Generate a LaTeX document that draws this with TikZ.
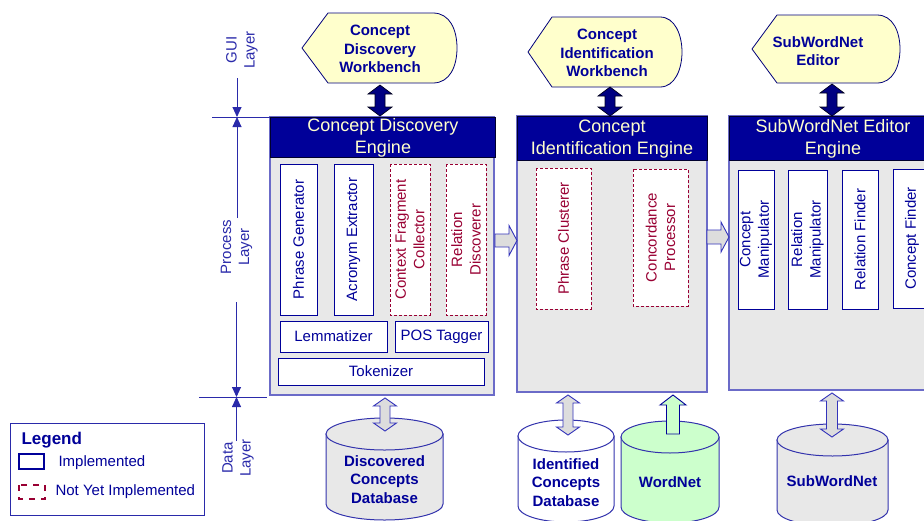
\documentclass[tikz,border=0pt]{standalone}
\usepackage{fontspec}
\setmainfont{Liberation Sans}
\usetikzlibrary{arrows.meta}
\definecolor{navy}{HTML}{000099}
\definecolor{hdrtxt}{HTML}{FFFFCC}
\definecolor{engfill}{HTML}{E8E8E8}
\definecolor{engdraw}{HTML}{6B6BC8}
\definecolor{niRed}{HTML}{990033}
\definecolor{wbfill}{HTML}{FFFFCC}
\definecolor{dimblue}{HTML}{2A2AAA}
\definecolor{garrow}{HTML}{DDDDDD}
\definecolor{garrowdraw}{HTML}{3333BB}
\definecolor{wngreen}{HTML}{CCFFCC}
\definecolor{dbgray}{HTML}{E8E8E8}
\newcommand\VDArrow[7]{% x, ytop, ybot, shaft half, head half, head length, style
  \path[#7] (#1-#5,#2+#6) -- (#1,#2) -- (#1+#5,#2+#6) -- (#1+#4,#2+#6) -- (#1+#4,#3-#6) -- (#1+#5,#3-#6) -- (#1,#3) -- (#1-#5,#3-#6) -- (#1-#4,#3-#6) -- (#1-#4,#2+#6) -- cycle;}
\newcommand\VUArrow[7]{% x, ytop, ybot, shaft half, head half, head length, style
  \path[#7] (#1-#4,#3) -- (#1-#4,#2+#6) -- (#1-#5,#2+#6) -- (#1,#2) -- (#1+#5,#2+#6) -- (#1+#4,#2+#6) -- (#1+#4,#3) -- cycle;}
\newcommand\HRArrow[7]{% xl, xr, yc, shaft half, head half, head length, style
  \path[#7] (#1,#3-#4) -- (#2-#6,#3-#4) -- (#2-#6,#3-#5) -- (#2,#3) -- (#2-#6,#3+#5) -- (#2-#6,#3+#4) -- (#1,#3+#4) -- cycle;}
\newcommand\DBcyl[6]{% xl, xr, ytop centre, ybot centre, ry, style
  \path[#6] (#1,#4) -- (#1,#3) -- (#2,#3) -- (#2,#4)
    .. controls (#2,#4+0.5523*#5) and ({(#1+#2)/2+0.5523*(#2-#1)/2},#4+#5) .. ({(#1+#2)/2},#4+#5)
    .. controls ({(#1+#2)/2-0.5523*(#2-#1)/2},#4+#5) and (#1,#4+0.5523*#5) .. (#1,#4) -- cycle;
  \path[#6] ({(#1+#2)/2},#3) ellipse [x radius={(#2-#1)/2}, y radius=#5];}
\begin{document}
\begin{tikzpicture}[x=1pt,y=-1pt,
  wbshape/.style={draw=navy!80!black, fill=wbfill, line width=0.8pt},
  wbtext/.style={font=\bfseries\fontsize{15}{18.5}\selectfont, text=navy, align=center},
  engbox/.style={draw=engdraw, fill=engfill, line width=1.2pt},
  enghdr/.style={draw=black!70!navy, fill=navy, line width=0.6pt},
  hdrtext/.style={font=\fontsize{18}{22}\selectfont, text=hdrtxt, align=center},
  implrot/.style={draw=navy, line width=1pt, fill=white, text=navy, inner sep=0pt, align=center,
     rotate=90, font=\fontsize{15}{18.5}\selectfont},
  notimplrot/.style={implrot, draw=niRed, text=niRed, dashed, dash pattern=on 3pt off 2pt, line width=0.9pt},
  implflat/.style={draw=navy, line width=1pt, fill=white, text=navy, inner sep=0pt, align=center,
     font=\fontsize{15}{18}\selectfont},
  navyarrow/.style={fill=navy!85!black, draw=black!80!navy, line width=0.7pt},
  grayarrow/.style={fill=garrow, draw=garrowdraw, line width=0.9pt},
  greenarrow/.style={fill=wngreen, draw=navy, line width=0.9pt},
  dimline/.style={draw=dimblue, line width=0.9pt},
  dimtip/.style={dimline, -{Triangle[width=9pt,length=10pt]}},
  layertext/.style={font=\fontsize{15}{18}\selectfont, text=dimblue, align=center, rotate=90},
  dbtext/.style={font=\bfseries\fontsize{15}{18.5}\selectfont, text=navy, align=center},
  graycyl/.style={draw=navy!80, fill=dbgray, line width=1pt},
  whitecyl/.style={draw=navy!80, fill=white, line width=1pt},
  greencyl/.style={draw=navy!80, fill=wngreen, line width=1pt},
  legtext/.style={font=\fontsize{15}{18}\selectfont, text=navy, anchor=west}
]
\path[use as bounding box] (0,0) rectangle (924,520);
\clip (0,0) rectangle (924,520);

% ---------- GUI workbenches ----------
\path[wbshape] (302,48) -- (328,13) -- (433,13) .. controls (450,13) and (457,30) .. (457,48)
   .. controls (457,66) and (450,83) .. (433,83) -- (328,83) -- cycle;
\node[wbtext] (wb1) at (380,49) {Concept\\Discovery\\Workbench};
\path[wbshape] (528,52) -- (552,17) -- (660,17) .. controls (675,17) and (682,35) .. (682,52)
   .. controls (682,69) and (675,87) .. (660,87) -- (552,87) -- cycle;
\node[wbtext] (wb2) at (607,53) {Concept\\Identification\\Workbench};
\path[wbshape] (752,49) -- (777,15) -- (877,15) .. controls (893,15) and (900,32) .. (900,49)
   .. controls (900,66) and (893,83) .. (877,83) -- (777,83) -- cycle;
\node[wbtext] (wb3) at (818,51) {SubWordNet\\Editor};

% ---------- Engines ----------
\path[engbox] (270,117) rectangle (494,395);
\path[enghdr] (270,117) rectangle (495,157);
\node[hdrtext] (e1) at (383,138) {Concept Discovery\\Engine};

\path[engbox] (517,116) rectangle (707,392);
\path[enghdr] (517,116) rectangle (707,160);
\node[hdrtext] (e2) at (612,139) {Concept\\Identification Engine};

\path[engbox] (729,116) rectangle (945,390);
\path[enghdr] (729,116) rectangle (945,160);
\node[hdrtext] (e3) at (833,139) {SubWordNet Editor\\Engine};

% inner components
\node[implrot, minimum width=151pt, minimum height=37pt] (pg) at (298.5,239.5) {Phrase Generator};
\node[implrot, minimum width=151pt, minimum height=39pt] (ae) at (353.5,239.5) {Acronym Extractor};
\node[notimplrot, minimum width=151pt, minimum height=40pt] (cfc) at (410,239.5) {Context Fragment\\Collector};
\node[notimplrot, minimum width=151pt, minimum height=40pt] (rd) at (466,239.5) {Relation\\Discoverer};
\node[implflat, minimum width=107pt, minimum height=31pt] (lem) at (333.5,336.5) {Lemmatizer};
\node[implflat, minimum width=93pt, minimum height=31pt] (pos) at (441.5,336.5) {POS Tagger};
\node[implflat, minimum width=206pt, minimum height=27pt] (tok) at (381,371.5) {Tokenizer};

\node[notimplrot, minimum width=141pt, minimum height=55pt] (pc) at (563.5,238.5) {Phrase Clusterer};
\node[notimplrot, minimum width=137pt, minimum height=55pt] (cp) at (660.5,237.5) {Concordance\\Processor};

\node[implrot, minimum width=139pt, minimum height=36pt] (cm) at (756,239.5) {Concept\\Manipulator};
\node[implrot, minimum width=139pt, minimum height=39pt] (rm) at (807.5,239.5) {Relation\\Manipulator};
\node[implrot, minimum width=139pt, minimum height=36pt] (rf) at (860,239.5) {Relation Finder};
\node[implrot, minimum width=139pt, minimum height=38pt] (cf) at (912,238.5) {Concept Finder};

% arrows between engines
\HRArrow{495}{517}{240.5}{6.5}{15}{8}{grayarrow}
\HRArrow{707}{729}{237}{7}{15}{8}{grayarrow}

% workbench <-> engine arrows
\VDArrow{380}{85}{116}{5}{12}{9}{navyarrow}
\VDArrow{610}{87}{116}{5}{12}{9}{navyarrow}
\VDArrow{832}{84}{116}{5}{12}{9}{navyarrow}

% ---------- Databases ----------
\DBcyl{326}{443}{434}{504}{16}{graycyl}
\node[dbtext] (db1) at (384.5,479.5) {Discovered\\Concepts\\Database};
\DBcyl{518}{614}{436}{506}{16}{whitecyl}
\node[dbtext] (db2) at (566,482.5) {Identified\\Concepts\\Database};
\DBcyl{621}{719}{437}{507}{16}{greencyl}
\node[dbtext] (db3) at (670,482) {WordNet};
\DBcyl{777}{888}{440}{510}{16}{graycyl}
\node[dbtext] (db4) at (832,481) {SubWordNet};

\VDArrow{385}{398}{431}{5}{11.5}{8}{grayarrow}
\VDArrow{568}{395}{435}{5}{11.5}{8}{grayarrow}
\VUArrow{673}{395}{434}{6.5}{13}{10}{greenarrow}
\VDArrow{832}{393}{437}{5.5}{11.5}{8}{grayarrow}

% ---------- Layer dimension lines ----------
\coordinate (t1) at (237,117);
\coordinate (t2) at (236.5,397);
\draw[dimline] (212,117) -- (270,117);
\draw[dimline] (199,397) -- (267,397);
\node[layertext] (gui) at (242,50) {GUI\\Layer};
\node[layertext] (proc) at (236.5,247) {Process\\Layer};
\node[layertext] (data) at (238,458) {Data\\Layer};
\draw[dimtip] (237,78) -- (t1);
\draw[dimtip] (237,218) -- (t1);
\draw[dimtip] (236.5,302) -- (t2);
\draw[dimtip] (236.5,441) -- (t2);

% ---------- Legend ----------
\path[draw=dimblue, line width=0.9pt, fill=white] (10,423) rectangle (204,515);
\node[font=\bfseries\fontsize{17}{20}\selectfont, text=navy, anchor=west] (leg) at (18,440) {Legend};
\path[draw=navy, line width=1.5pt] (19,454) rectangle (44,469);
\node[legtext] (limp) at (55,463) {Implemented};
\path[draw=niRed, line width=1.5pt, dashed, dash pattern=on 6pt off 6pt] (19,485) rectangle (45,499);
\node[legtext] (lnot) at (52,492) {Not Yet Implemented};
\end{tikzpicture}
\end{document}
